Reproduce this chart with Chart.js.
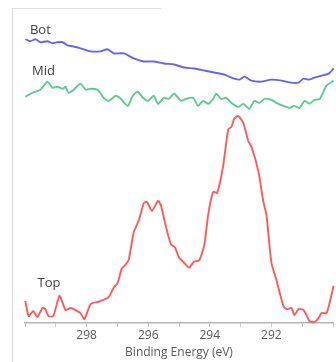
<!DOCTYPE html>
<html>
<head>
<meta charset="utf-8">
<script src="https://cdn.jsdelivr.net/npm/chart.js@4/dist/chart.umd.min.js"></script>
<style>
  body { margin: 0; background: #fff; }
  #wrap { position: relative; width: 336px; height: 362px; }
  #frame { position: absolute; left: 12px; top: 8px; width: 148px; height: 360px;
           border-left: 1px solid #d6d6d6; border-top: 1px solid #e0e0e0; }
</style>
</head>
<body>
<div id="wrap">
  <div id="frame"></div>
  <canvas id="xpsChart" width="336" height="362"></canvas>
</div>
<script>
// binding energy (eV) and intensity (a.u., offset per layer)
const topEnergy = [299.99, 299.88, 299.73, 299.60, 299.43, 299.34, 299.24, 299.08, 298.88, 298.68,
  298.52, 298.36, 298.20, 298.07, 297.87, 297.64, 297.45, 297.28, 297.12, 296.99,
  296.86, 296.73, 296.63, 296.47, 296.30, 296.14, 296.04, 295.88, 295.68, 295.59,
  295.42, 295.26, 295.13, 295.00, 294.84, 294.67, 294.51, 294.35, 294.18, 294.05,
  293.89, 293.76, 293.57, 293.40, 293.30, 293.21, 293.08, 292.91, 292.75, 292.65,
  292.42, 292.26, 292.16, 292.00, 291.84, 291.61, 291.51, 291.35, 291.25, 291.12,
  290.96, 290.86, 290.76, 290.60, 290.47, 290.37, 290.21, 290.11, 289.98];
const topCounts = [11, 3.5, 6, 3, 7.5, 7, 3.5, 3.5, 13.5, 6.5,
  7.5, 6.5, 5, 2, 9.5, 10.5, 11.5, 13, 17.5, 20,
  27, 29, 31.5, 45, 51, 59.5, 60, 55.5, 60.5, 58.5,
  47.5, 39, 37.5, 32.5, 30, 27.5, 30.5, 31, 38.5, 54,
  65, 64.5, 77.5, 96, 97, 101, 102.5, 99, 90, 87.5,
  75, 60, 53.5, 30, 21.5, 8.5, 7, 7.5, 4, 7,
  6.5, 4, 1, 0.5, 2.5, 5, 5, 10, 18.5];

const midEnergy = [299.99, 299.76, 299.50, 299.27, 299.11, 298.95, 298.78, 298.68, 298.59, 298.42,
  298.20, 298.03, 297.87, 297.64, 297.45, 297.28, 297.05, 296.89, 296.66, 296.50,
  296.34, 296.17, 296.01, 295.82, 295.68, 295.49, 295.33, 295.16, 294.93, 294.77,
  294.54, 294.38, 294.22, 294.05, 293.89, 293.79, 293.63, 293.47, 293.30, 293.08,
  292.91, 292.72, 292.55, 292.39, 292.23, 292.00, 291.84, 291.61, 291.41, 291.25,
  291.09, 290.92, 290.76, 290.60, 290.43, 290.21, 289.98];
const midCounts = [112, 114, 115.5, 119.5, 116.5, 117, 116, 117, 114, 115.5,
  118.5, 115.5, 116, 115.5, 111.5, 110, 112.5, 111, 107.5, 112.5,
  114.5, 111.5, 110, 112.5, 108.5, 111.5, 111, 113.5, 110, 111,
  111.5, 107.5, 110, 108.5, 111, 113.5, 111, 111.5, 109, 107,
  108.5, 106, 110, 109, 111, 110.5, 109, 107.5, 106.5, 107.5,
  106.5, 110, 108.5, 110.5, 111, 117.5, 120];

const botEnergy = [299.99, 299.83, 299.66, 299.50, 299.27, 299.11, 298.95, 298.78, 298.62, 298.46,
  298.20, 297.87, 297.54, 297.32, 297.12, 296.79, 296.47, 296.14, 295.82, 295.49,
  295.16, 294.84, 294.51, 294.18, 293.86, 293.53, 293.21, 293.04, 292.88, 292.65,
  292.33, 292.00, 291.67, 291.35, 291.12, 290.96, 290.79, 290.60, 290.37, 290.14, 289.98];
const botCounts = [140.5, 139.5, 140.5, 139, 139.5, 138.5, 139, 139, 137.5, 137,
  136, 134.5, 134.5, 135.5, 133.5, 133.5, 131, 129.5, 129.5, 128.5,
  128, 126.5, 126, 125, 124, 123, 121, 120.5, 122, 120,
  119.5, 120.5, 120, 119, 119, 121, 120.5, 121.5, 122.5, 123.5, 126];

const tickLabels = [292, 294, 296, 298];
const layerNames = ["Bot", "Mid", "Top"];

function pairs(xs, ys) {
    return xs.map(function(x, i) { return { x: x, y: ys[i] }; });
}

// layer names written next to each trace
const layerLabels = {
    id: "layerLabels",
    afterDatasetsDraw: function(chart) {
        const ctx = chart.ctx;
        const xs = chart.scales.x, ys = chart.scales.y;
        const spots = [[299.5, 145], [299.4, 124.5], [299.22, 19.5]];
        ctx.save();
        ctx.font = "13px 'Open Sans'";
        ctx.fillStyle = "#404040";
        ctx.textAlign = "center";
        ctx.textBaseline = "middle";
        layerNames.forEach(function(name, i) {
            ctx.fillText(name, xs.getPixelForValue(spots[i][0]), ys.getPixelForValue(spots[i][1]));
        });
        ctx.restore();
    }
};

const ctx = document.getElementById("xpsChart").getContext("2d");
new Chart(ctx, {
    type: "line",
    data: {
        datasets: [
            { label: "Bot", data: pairs(botEnergy, botCounts), borderColor: "#6464f0" },
            { label: "Mid", data: pairs(midEnergy, midCounts), borderColor: "#5ccb8c" },
            { label: "Top", data: pairs(topEnergy, topCounts), borderColor: "#ff5a5a" }
        ]
    },
    options: {
        responsive: false,
        animation: false,
        layout: { padding: { left: 25, right: 3, top: 20, bottom: 2 } },
        elements: {
            line: { borderWidth: 1.9, tension: 0.2, fill: false },
            point: { radius: 0 }
        },
        datasets: { line: { clip: false } },
        scales: {
            x: {
                type: "linear",
                reverse: true,
                min: 290,
                max: 300,
                border: { color: "#b4b4b4", width: 1.5 },
                grid: { drawOnChartArea: false, drawTicks: true, tickLength: 4, color: "#c8c8c8" },
                ticks: {
                    stepSize: 1,
                    autoSkip: false,
                    maxRotation: 0,
                    padding: 1,
                    color: "#595959",
                    font: { family: "'Open Sans'", size: 12 },
                    callback: function(v) { return tickLabels.indexOf(v) >= 0 ? String(v) : ""; }
                },
                title: {
                    display: true,
                    text: "Binding Energy (eV)",
                    color: "#595959",
                    font: { family: "'Open Sans'", size: 12 },
                    padding: { top: 2, bottom: 0 }
                }
            },
            y: { display: false, min: 0, max: 150 }
        },
        plugins: {
            legend: { display: false },
            tooltip: { enabled: false }
        }
    },
    plugins: [layerLabels]
});
</script>
</body>
</html>
